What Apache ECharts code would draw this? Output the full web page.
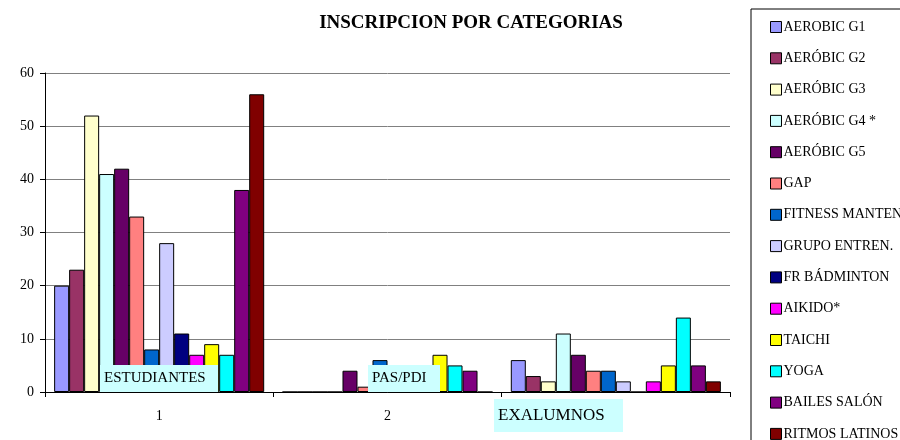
<!DOCTYPE html>
<html>
<head>
<meta charset="utf-8">
<script src="https://cdn.jsdelivr.net/npm/echarts@6/dist/echarts.min.js"></script>
<style>
  html, body { margin: 0; padding: 0; background: #fff; }
  #main { width: 900px; height: 440px; }
</style>
</head>
<body>
<div id="main"></div>
<script>
var categories = ['1', '2', '3'];
var seriesNames = ['AEROBIC G1', 'AERÓBIC G2', 'AERÓBIC G3', 'AERÓBIC G4 *', 'AERÓBIC G5', 'GAP',
	'FITNESS MANTENIMIENTO', 'GRUPO ENTREN.', 'FR BÁDMINTON', 'AIKIDO*', 'TAICHI', 'YOGA',
	'BAILES SALÓN', 'RITMOS LATINOS'];
var color = ['#9999FF', '#993366', '#FFFFCC', '#CCFFFF', '#660066', '#FF8080', '#0066CC',
	'#CCCCFF', '#000080', '#FF00FF', '#FFFF00', '#00FFFF', '#800080', '#800000'];
// one array per activity: [estudiantes, pas/pdi, exalumnos]
var aerobicG1 = [20, 0, 6];
var aerobicG2 = [23, 0, 3];
var aerobicG3 = [52, 0, 2];
var aerobicG4 = [41, 0, 11];
var aerobicG5 = [42, 4, 7];
var gap = [33, 1, 4];
var fitness = [8, 6, 4];
var grupoEntren = [28, 0, 2];
var frBadminton = [11, 0, 0];
var aikido = [7, 0, 2];
var taichi = [9, 7, 5];
var yoga = [7, 5, 14];
var bailesSalon = [38, 4, 5];
var ritmosLatinos = [56, 0, 2];
var yTicks = [0, 10, 20, 30, 40, 50, 60];

var values = [aerobicG1, aerobicG2, aerobicG3, aerobicG4, aerobicG5, gap, fitness,
	grupoEntren, frBadminton, aikido, taichi, yoga, bailesSalon, ritmosLatinos];

var serif = '"Liberation Serif", "DejaVu Serif", serif';

var series = [];
for (var i = 0, len = seriesNames.length; i < len; i++) {
	series.push({
		name: seriesNames[i],
		type: 'bar',
		barGap: '0%',
		barCategoryGap: '8%',
		itemStyle: {
			color: color[i],
			borderColor: '#000',
			borderWidth: 1
		},
		data: values[i]
	});
}

// cyan text boxes sitting on top of the plot
function labelBox(x, y, w, h, text, size) {
	return {
		type: 'group',
		children: [
			{ type: 'rect', z: 100, shape: { x: x, y: y, width: w, height: h }, style: { fill: '#CCFFFF' } },
			{ type: 'text', z: 101, x: x + 4, y: y + h / 2, style: { text: text, font: size + 'px ' + serif, fill: '#000', verticalAlign: 'middle' } }
		]
	};
}

var itemStep = 31.3;
// the legend runs past the bottom edge, so the last entry gets its own legend to avoid wrapping
function buildLegend(names, top) {
	return {
		orient: 'vertical',
		left: 770,
		top: top,
		padding: 0,
		itemWidth: 11,
		itemHeight: 11,
		itemGap: itemStep - 14,
		icon: 'rect',
		itemStyle: { borderColor: '#000', borderWidth: 1 },
		textStyle: { fontFamily: serif, fontSize: 14, color: '#000', lineHeight: 14, padding: [0, 0, 0, -3] },
		data: names
	};
}

var chart = echarts.init(document.getElementById('main'));
var option = {
	animation: false,
	color: color,
	title: {
		text: 'INSCRIPCION POR CATEGORIAS',
		left: 466,
		textAlign: 'center',
		top: 9,
		textStyle: { fontFamily: serif, fontSize: 19, fontWeight: 'bold', color: '#000' }
	},
	legend: [
		buildLegend(seriesNames.slice(0, 13), 20),
		buildLegend(seriesNames.slice(13), 20 + 13 * itemStep)
	],
	grid: { left: 45, right: 170, top: 73, bottom: 48 },
	xAxis: {
		type: 'category',
		data: categories,
		axisLine: { lineStyle: { color: '#000', width: 1 } },
		axisTick: { show: true, length: 5, lineStyle: { color: '#000' } },
		axisLabel: { fontFamily: serif, fontSize: 14, color: '#000', margin: 17 }
	},
	yAxis: {
		type: 'value',
		min: yTicks[0],
		max: yTicks[yTicks.length - 1],
		interval: 10,
		axisLine: { show: true, lineStyle: { color: '#000', width: 1 } },
		axisTick: { show: true, length: 5, lineStyle: { color: '#000' } },
		axisLabel: { fontFamily: serif, fontSize: 14, color: '#000', margin: 11 },
		splitLine: { lineStyle: { color: '#808080', width: 1 } }
	},
	graphic: [
		{ type: 'rect', z: 0, shape: { x: 751, y: 9, width: 200, height: 460 }, style: { fill: 'none', stroke: '#000', lineWidth: 1 } },
		labelBox(100, 365, 118, 27, 'ESTUDIANTES', 15),
		labelBox(368, 365, 72, 27, 'PAS/PDI', 15),
		labelBox(494, 399, 129, 33, 'EXALUMNOS', 17)
	],
	series: series
};
chart.setOption(option);
</script>
</body>
</html>
